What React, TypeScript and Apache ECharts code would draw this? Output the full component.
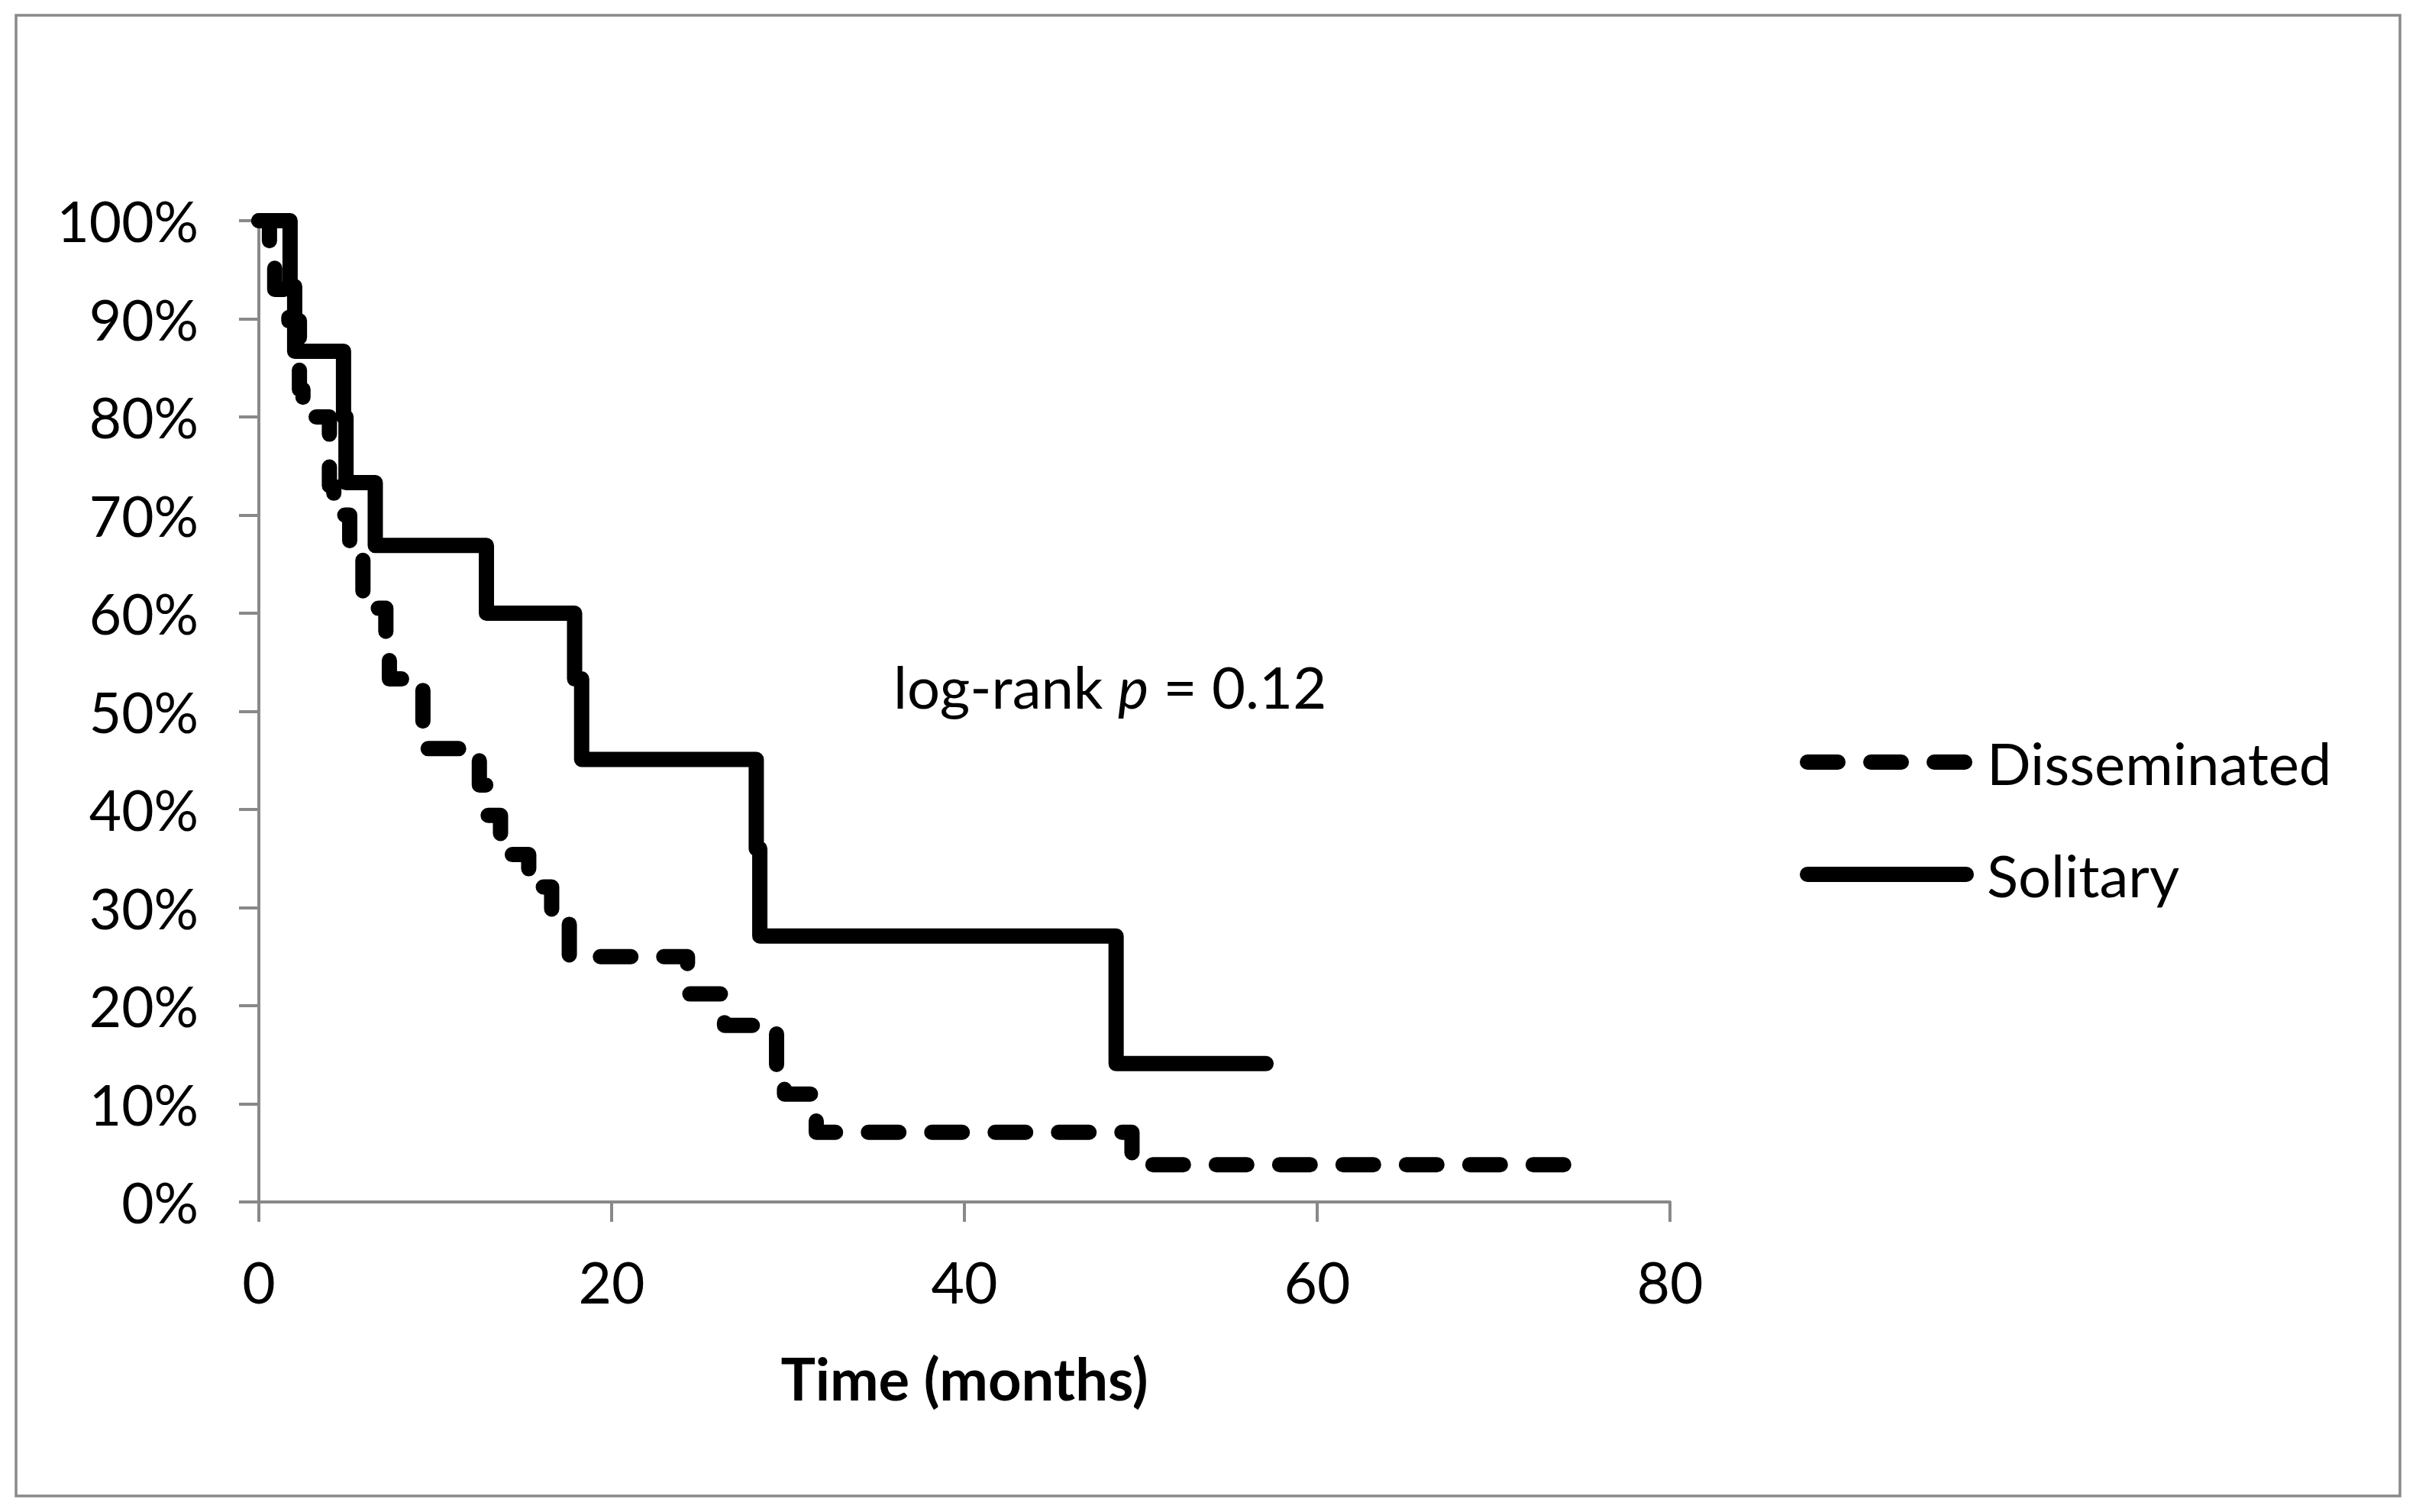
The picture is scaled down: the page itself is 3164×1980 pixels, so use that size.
import React, { useEffect, useRef } from "react";
import * as echarts from "echarts";

// Kaplan–Meier step data (time in months, survival in %)
const dissTimes = [0, 0.6, 0.9, 1.7, 2.3, 2.5, 4.0, 4.25, 5.15, 5.9, 7.2, 7.4, 9.3, 12.5, 12.9, 13.7, 15.3, 16.6, 17.6, 24.3, 26.4, 29.35, 29.8, 31.6, 49.5, 74.8];
const dissSurv = [100, 96.4, 93, 89.8, 82.8, 80, 73, 70, 66.5, 60.5, 56.5, 53.3, 46.2, 42.5, 39.4, 35.4, 32.1, 28.6, 25, 21.2, 18, 14, 11, 7.1, 3.8, 3.8];

const solTimes = [0, 1.77, 2.03, 4.8, 4.94, 6.6, 12.9, 17.9, 18.3, 28.2, 28.4, 48.6, 57.1];
const solSurv = [100, 93.3, 86.7, 80, 73.3, 66.9, 60, 53.3, 45.1, 36, 27.1, 14.1, 14.1];

const seriesNames = ["Disseminated", "Solitary"];
const xTicks = { min: 0, max: 80, interval: 20 };
const yTicks = { min: 0, max: 100, interval: 10 };
const annotation = { pre: "log-rank ", italic: "p", post: " = 0.12" };
const xTitle = "Time (months)";

const FONT = "Lato, 'Open Sans', sans-serif";
const GRAY = "#898989";

export default function App() {
  const ref = useRef<HTMLDivElement>(null);

  useEffect(() => {
    if (!ref.current) return;
    const chart = echarts.init(ref.current, null, { renderer: "svg" });
    const diss = dissTimes.map((t, i) => [t, dissSurv[i]]);
    const sol = solTimes.map((t, i) => [t, solSurv[i]]);

    chart.setOption({
      animation: false,
      backgroundColor: "#ffffff",
      grid: {
        left: 339,
        top: 289,
        right: 977,
        bottom: 406,
        containLabel: false,
        outerBoundsMode: "none",
      },
      xAxis: {
        type: "value",
        min: xTicks.min,
        max: xTicks.max,
        interval: xTicks.interval,
        name: xTitle,
        nameLocation: "middle",
        nameGap: 192,
        nameTextStyle: {
          fontFamily: FONT,
          fontSize: 76,
          fontWeight: "bold",
          color: "#000",
        },
        axisLine: { show: true, onZero: false, lineStyle: { color: GRAY, width: 4 } },
        axisTick: { show: true, inside: false, length: 26, lineStyle: { color: GRAY, width: 4 } },
        axisLabel: { margin: 66, fontFamily: FONT, fontSize: 75, color: "#000" },
        splitLine: { show: false },
      },
      yAxis: {
        type: "value",
        min: yTicks.min,
        max: yTicks.max,
        interval: yTicks.interval,
        axisLine: { show: true, onZero: false, lineStyle: { color: GRAY, width: 4 } },
        axisTick: { show: true, inside: false, length: 26, lineStyle: { color: GRAY, width: 4 } },
        axisLabel: {
          margin: 79,
          fontFamily: FONT,
          fontSize: 73,
          color: "#000",
          formatter: "{value}%",
        },
        splitLine: { show: false },
      },
      legend: {
        orient: "vertical",
        left: 2352,
        top: 955,
        itemWidth: 208,
        itemHeight: 20,
        itemGap: 71,
        data: seriesNames,
        itemStyle: { opacity: 0, color: "rgba(0,0,0,0)", borderWidth: 0 },
        lineStyle: { width: 20, type: "inherit", cap: "round", join: "round", color: "#000" },
        textStyle: {
          fontFamily: FONT,
          fontSize: 76,
          lineHeight: 76,
          color: "#000",
          padding: [0, 0, 0, 22],
        },
      },
      graphic: [
        {
          type: "rect",
          silent: true,
          shape: { x: 21, y: 20, width: 3122, height: 1939 },
          style: { fill: "none", stroke: GRAY, lineWidth: 3.5 },
        },
        {
          type: "text",
          silent: true,
          x: 1170,
          y: 898,
          style: {
            text: `{a|${annotation.pre}}{b|${annotation.italic}}{a|${annotation.post}}`,
            verticalAlign: "middle",
            align: "left",
            fill: "#000",
            rich: {
              a: { fontFamily: FONT, fontSize: 76, fill: "#000", color: "#000" },
              b: { fontFamily: FONT, fontSize: 76, fontStyle: "italic", fill: "#000", color: "#000" },
            },
          },
        },
      ],
      series: [
        {
          name: seriesNames[0],
          type: "line",
          step: "end",
          symbol: "none",
          data: diss,
          lineStyle: { color: "#000", width: 20, type: [40, 43], cap: "round", join: "round" },
          itemStyle: { color: "#000" },
          z: 3,
        },
        {
          name: seriesNames[1],
          type: "line",
          step: "end",
          symbol: "none",
          data: sol,
          lineStyle: { color: "#000", width: 20, type: "solid", cap: "round", join: "round" },
          itemStyle: { color: "#000" },
          z: 2,
        },
      ],
    });

    return () => chart.dispose();
  }, []);

  return (
    <div
      ref={ref}
      style={{ position: "absolute", left: 0, top: 0, width: "3164px", height: "1980px", background: "#fff" }}
    />
  );
}
